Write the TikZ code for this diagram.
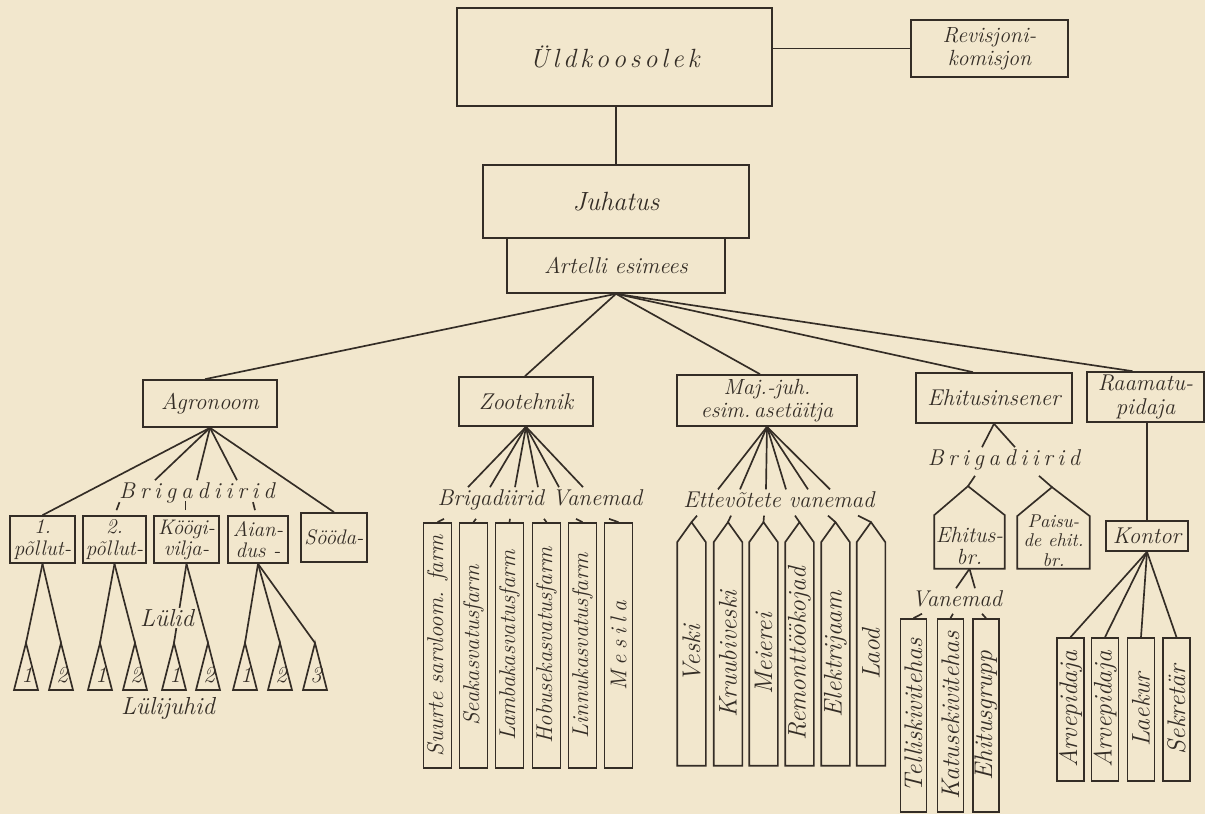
\documentclass[tikz,border=0pt]{standalone}
\usepackage{tikz}
\usetikzlibrary{calc}

\definecolor{paper}{RGB}{242,231,205}
\definecolor{ink}{RGB}{52,45,38}

\makeatletter
\newcommand\spreadtext[2]{\begingroup\def\spr@k{}%
  \@tfor\spr@c:=#2\do{\spr@k\spr@c\def\spr@k{\kern#1}}\endgroup}
\makeatother

\begin{document}
\begin{tikzpicture}[x=0.02cm, y=-0.02cm, line width=0.95pt, color=ink,
    box/.style={draw=ink, inner sep=1pt, align=center,
        font=\fontsize{13}{13.5}\selectfont\itshape},
    lbl/.style={inner sep=1pt, align=center, font=\fontsize{13}{14}\selectfont\itshape},
    small/.style={box, font=\fontsize{12}{12}\selectfont\itshape},
    vbox/.style n args={2}{box, rotate=90, minimum width=#1, minimum height=#2,
        font=\fontsize{13}{14}\selectfont\itshape},
    bigv/.style={font=\fontsize{14.5}{15}\selectfont\itshape},
    shell/.style={box, draw=none, inner sep=0pt}]

\fill[paper] (0,0) rectangle (1205,814);
\useasboundingbox (0,0) rectangle (1205,814);

% top of the artel
\node[box, minimum width=6.3cm, minimum height=1.96cm,
    font=\fontsize{15}{16}\selectfont\itshape] (uld) at (614.5,57) {\spreadtext{2.2pt}{Üldkoosolek}};
\node[box, minimum width=3.14cm, minimum height=1.14cm, font=\fontsize{12.5}{13}\selectfont\itshape] (rev) at (989.5,48.5) {Revisjoni-\\komisjon};
\node[box, minimum width=5.32cm, minimum height=1.46cm, font=\fontsize{15}{16}\selectfont\itshape] (juh) at (616,201.5) {Juhatus};
\node[box, minimum width=4.36cm, minimum height=1.1cm] (art) at (616,265.5) {Artelli esimees};

\draw (rev.west -| uld.east) -- (rev.west);
\draw (juh.north |- uld.south) -- (juh.north);

\node[box, minimum width=2.68cm, minimum height=0.94cm] (agr) at (210,403.5) {Agronoom};
\node[box, minimum width=2.68cm, minimum height=0.98cm] (zoo) at (526,401.5) {Zootehnik};
\node[box, minimum width=3.6cm, minimum height=1.02cm, font=\fontsize{12.5}{13}\selectfont\itshape] (maj) at (767,400.5) {Maj.-juh.\\esim.\,asetäitja};
\node[box, minimum width=3.12cm, minimum height=1.0cm] (ehi) at (994,398) {Ehitusinsener};
\node[box, minimum width=2.34cm, minimum height=1.0cm] (raa) at (1145.5,397) {Raamatu-\\pidaja};

\draw (art.south) -- ($(agr.north)+(-5,0)$);
\draw (art.south) -- ($(zoo.north)+(-1,0)$);
\draw (art.south) -- ($(maj.north)+(-7,0)$);
\draw (art.south) -- ($(ehi.north)+(-21,0)$);
\draw (art.south) -- ($(raa.north)+(-13,0)$);

% agronoom
\node[lbl] (agbr) at (197,493) {\spreadtext{2.8pt}{Brigadiirid}};
\node[small, minimum width=1.3cm, minimum height=0.94cm] (p1) at (42.5,539.5) {1.\\põllut-};
\node[small, minimum width=1.26cm, minimum height=0.94cm] (p2) at (114.5,539.5) {2.\\põllut-};
\node[small, minimum width=1.3cm, minimum height=0.94cm] (kog) at (186.5,539.5) {Köögi-\\vilja-};
\node[small, minimum width=1.2cm, minimum height=0.94cm] (aia) at (258,539.5) {Aian-\\dus -};
\node[small, minimum width=1.32cm, minimum height=0.98cm] (soo) at (334,537.5) {Sööda-};

\draw (agr.south) -- (p1.north);
\draw (agr.south) -- (soo.north);
\foreach \d in {-42,0,40}
    \draw (agr.south) -- ($(agbr.north)+(\d,0)$);
\draw ([shift={(2,-5)}]p2.north) -- ++(3,-8);
\draw ([shift={(-1,-5)}]kog.north) -- ++(0,-9);
\draw ([shift={(-3,-5)}]aia.north) -- ++(-2,-8);

\foreach \i/\x/\t in {1/26/1, 2/61/2, 3/100/1, 4/135/2, 5/174/1, 6/208/2, 7/245/1, 8/280/2, 9/315/3} {
    \coordinate (tr\i) at (\x,643);
    \draw (tr\i) -- ++(-12,47) -- ++(24,0) -- cycle;
    \node[lbl, inner sep=0pt] (nr\i) at (\x+1,675) {\t};
}
\draw (p1.south) -- (tr1);
\draw (p1.south) -- (tr2);
\draw (p2.south) -- (tr3);
\draw (p2.south) -- (tr4);
\draw (kog.south) -- (tr5);
\draw (kog.south) -- (tr6);
\draw (aia.south) -- (tr7);
\draw (aia.south) -- (tr8);
\draw (aia.south) -- (tr9);
\node[lbl, fill=paper, font=\fontsize{14}{15}\selectfont\itshape] (lul) at (167,618) {Lülid};
\node[lbl, font=\fontsize{14}{15}\selectfont\itshape] (luj) at (168,708) {Lülijuhid};

% zootehnik
\node[lbl] (zobr) at (540,500) {Brigadiirid Vanemad};
\foreach \d in {-72,-50,-25,-2,19,43}
    \draw (zoo.south) -- ($(zobr.north)+(\d,0)$);
\foreach \i/\x/\t in {1/437.5/Suurte sarvloom. farm, 2/473.5/Seakasvatusfarm, 3/509.5/Lambakasvatusfarm,
        4/546.5/Hobusekasvatusfarm, 5/582.5/Linnukasvatusfarm, 6/618.5/{\spreadtext{3pt}{Mesila}}}
    \node[vbox={4.9cm}{0.56cm}] (z\i) at (\x,645.5) {\t};
\foreach \i/\d in {1/-96,2/-64,3/-30,4/4,5/36,6/69}
    \draw (z\i.east) -- ($(zobr.south)+(\d,6)$);

% majandusjuhataja
\node[lbl] (etv) at (779,500) {Ettevõtete vanemad};
\foreach \d in {-61,-39,-13,7,29,51}
    \draw (maj.south) -- ($(etv.north)+(\d,0)$);
\foreach \i/\x/\t in {1/691.5/Veski, 2/728/Kruubiveski, 3/763.5/Meierei, 4/799.5/Remonttöökojad,
        5/835.5/Elektrijaam, 6/871/Laod} {
    \node[vbox={4.44cm}{0.54cm}, bigv, draw=none] (v\i) at (\x,654) {\t};
    \coordinate (vt\i) at ($(v\i.east)+(0,-20)$);
    \draw (v\i.north west) -- (v\i.north east) -- (vt\i) -- (v\i.south east) -- (v\i.south west) -- cycle;
}
\foreach \i/\d in {1/-82,2/-48,3/-15,4/16,5/49,6/79}
    \draw (vt\i) -- ($(etv.south)+(\d,5)$);

% ehitusinsener
\node[lbl] (ehbr) at (1004,460) {\spreadtext{2.6pt}{Brigadiirid}};
\draw (ehi.south) -- ($(ehbr.north)+(-22,0)$);
\draw (ehi.south) -- ($(ehbr.north)+(11,0)$);
\node[shell, minimum width=1.38cm, minimum height=1.04cm] (eb) at (969.5,542) {};
\node[shell, minimum width=1.42cm, minimum height=1.02cm] (pb) at (1053.5,542.5) {};
\node[lbl, inner sep=0pt, font=\fontsize{12.5}{13}\selectfont\itshape] (ebt) at ($(eb.center)+(0,4)$) {Ehitus-\\br.};
\node[lbl, inner sep=0pt, font=\fontsize{10.5}{11}\selectfont\itshape] (pbt) at ($(pb.center)+(0,-2)$) {Paisu-\\de ehit.\\br.};
\coordinate (ebtop) at ($(eb.north)+(-1.5,-29)$);
\coordinate (pbtop) at ($(pb.north)+(-1.5,-29)$);
\draw (eb.south west) -- (eb.north west) -- (ebtop) -- (eb.north east) -- (eb.south east) -- cycle;
\draw (pb.south west) -- (pb.north west) -- (pbtop) -- (pb.north east) -- (pb.south east) -- cycle;
\draw ($(ehbr.south)+(-29,3)$) -- (ebtop);
\draw ($(ehbr.south)+(35,3)$) -- (pbtop);

\node[lbl] (vnm) at (957,599) {Vanemad};
\draw (eb.south) -- ($(vnm.north)+(-1,0)$);
\draw (eb.south) -- ($(vnm.north)+(18,0)$);
\foreach \i/\x/\t in {1/913.5/Telliskivitehas, 2/950.5/Katusekivitehas, 3/986/Ehitusgrupp}
    \node[vbox={3.86cm}{0.52cm}, bigv] (h\i) at (\x,715.5) {\t};
\foreach \i/\d in {1/-35,2/-4,3/25}
    \draw (h\i.east) -- ($(vnm.south)+(\d,4)$);

% raamatupidaja
\node[box, minimum width=1.64cm, minimum height=0.6cm] (kon) at (1147,536) {Kontor};
\draw (kon.north |- raa.south) -- (kon.north);
\foreach \i/\x/\t in {1/1070.5/Arvepidaja, 2/1105/Arvepidaja, 3/1141/Laekur, 4/1176.5/Sekretär}
    \node[vbox={2.86cm}{0.54cm}, bigv] (k\i) at (\x,709.5) {\t};
\foreach \i in {1,...,4}
    \draw (kon.south) -- (k\i.east);

\end{tikzpicture}
\end{document}
